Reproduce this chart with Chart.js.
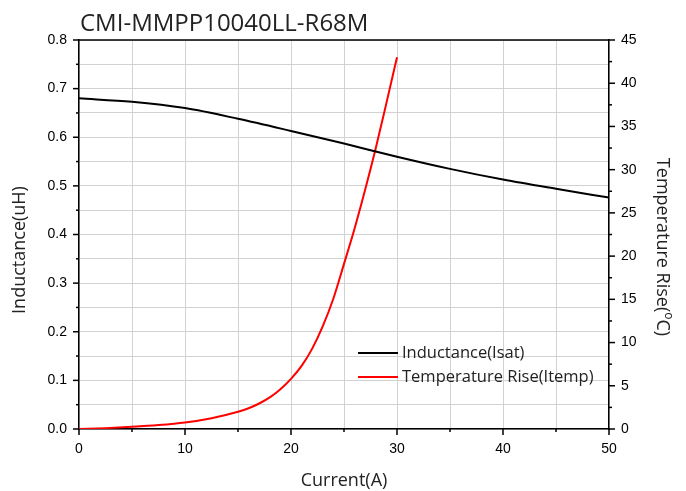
<!DOCTYPE html>
<html>
<head>
<meta charset="utf-8">
<script src="https://cdn.jsdelivr.net/npm/chart.js@4.4.0/dist/chart.umd.min.js"></script>
<style>
  html, body { margin: 0; padding: 0; background: #fff; }
  #caja { width: 686px; height: 491px; }
</style>
</head>
<body>
<div id="caja"><canvas id="myChart" width="686" height="491"></canvas></div>
<script>
// datos
const tituloGrafica = "CMI-MMPP10040LL-R68M";
const nombreSeries = ["Inductance(Isat)", "Temperature Rise(Itemp)"];
const tituloX = "Current(A)";
const tituloY = "Inductance(uH)";
const tituloY2 = ["Temperature Rise(", "o", "C)"];

const corrienteInd = [0, 5, 10, 15, 20, 25, 30, 35, 40, 45, 50];
const inductancia = [0.680, 0.673, 0.660, 0.638, 0.613, 0.587, 0.560, 0.535, 0.513, 0.494, 0.476];

const corrienteTemp = [0, 2.5, 5, 7.5, 10, 12.5, 15, 16, 17, 18, 19, 20, 21, 22, 23, 24, 25, 26, 27, 28, 29, 30];
const subidaTemp = [0, 0.1, 0.25, 0.45, 0.75, 1.25, 2.0, 2.4, 2.95, 3.65, 4.6, 5.8, 7.3, 9.3, 11.9, 15.1, 19.1, 23.2, 27.7, 32.5, 37.7, 43.0];

const ticksX = [0, 10, 20, 30, 40, 50];
const ticksY = [0, 0.1, 0.2, 0.3, 0.4, 0.5, 0.6, 0.7, 0.8];
const ticksY2 = [0, 5, 10, 15, 20, 25, 30, 35, 40, 45];

const fuenteTexto = '"Open Sans", "Noto Sans", sans-serif';
const fuenteNumeros = '"Liberation Sans", Arial, sans-serif';

function linea(ctx, x1, y1, x2, y2) {
    ctx.beginPath();
    ctx.moveTo(x1, y1);
    ctx.lineTo(x2, y2);
    ctx.stroke();
}

// marcas, marco, titulos y leyenda
const extras = {
    id: "extras",
    afterDraw(chart) {
        const ctx = chart.ctx;
        const area = chart.chartArea;
        const sx = chart.scales.x;
        const sy = chart.scales.y;
        const sy2 = chart.scales.y1;

        ctx.save();
        ctx.strokeStyle = "#000";
        ctx.lineWidth = 1.5;
        linea(ctx, area.left, area.top, area.right, area.top);

        for (let v = 0; v <= 50; v += 5) {
            const px = sx.getPixelForValue(v);
            const largo = ticksX.includes(v) ? 6 : 3;
            linea(ctx, px, area.bottom, px, area.bottom + largo);
        }
        for (let i = 0; i <= 16; i++) {
            const py = sy.getPixelForValue(i * 0.05);
            const largo = i % 2 === 0 ? 6 : 3;
            linea(ctx, area.left - largo, py, area.left, py);
        }
        for (let i = 0; i <= 18; i++) {
            const py = sy2.getPixelForValue(i * 2.5);
            const largo = i % 2 === 0 ? 6 : 3;
            linea(ctx, area.right, py, area.right + largo, py);
        }

        // titulo
        ctx.fillStyle = "#222";
        ctx.font = "24px " + fuenteTexto;
        ctx.textAlign = "left";
        ctx.textBaseline = "alphabetic";
        ctx.fillText(tituloGrafica, 80, 31);

        // titulos de ejes
        ctx.font = "18px " + fuenteTexto;
        ctx.textAlign = "center";
        ctx.textBaseline = "middle";
        ctx.fillText(tituloX, (area.left + area.right) / 2, 481);

        ctx.save();
        ctx.translate(20, 250);
        ctx.rotate(-Math.PI / 2);
        ctx.fillText(tituloY, 0, 0);
        ctx.restore();

        ctx.save();
        ctx.translate(662, 247);
        ctx.rotate(Math.PI / 2);
        ctx.textAlign = "left";
        const w1 = ctx.measureText(tituloY2[0]).width;
        ctx.font = "12px " + fuenteTexto;
        const w2 = ctx.measureText(tituloY2[1]).width;
        ctx.font = "18px " + fuenteTexto;
        const w3 = ctx.measureText(tituloY2[2]).width;
        let x0 = -(w1 + w2 + w3) / 2;
        ctx.fillText(tituloY2[0], x0, 0);
        ctx.font = "12px " + fuenteTexto;
        ctx.fillText(tituloY2[1], x0 + w1, -6);
        ctx.font = "18px " + fuenteTexto;
        ctx.fillText(tituloY2[2], x0 + w1 + w2, 0);
        ctx.restore();

        // leyenda
        ctx.font = "16.5px " + fuenteTexto;
        ctx.textAlign = "left";
        ctx.textBaseline = "middle";
        chart.data.datasets.forEach((ds, i) => {
            const yy = 353 + i * 24;
            ctx.strokeStyle = ds.borderColor;
            ctx.lineWidth = 2;
            linea(ctx, 358, yy, 398, yy);
            ctx.fillStyle = "#222";
            ctx.fillText(ds.label, 402, yy);
        });
        ctx.restore();
    }
};

function configGrafica() {
    const datosInd = corrienteInd.map((c, i) => ({ x: c, y: inductancia[i] }));
    const datosTemp = corrienteTemp.map((c, i) => ({ x: c, y: subidaTemp[i] }));
    const colorGrid = "#d2d2d2";
    const fuenteTicks = { family: fuenteNumeros, size: 14 };

    return {
        type: "line",
        data: {
            datasets: [
                {
                    label: nombreSeries[0],
                    data: datosInd,
                    borderColor: "#000000",
                    borderWidth: 2,
                    pointRadius: 0,
                    cubicInterpolationMode: "monotone",
                    yAxisID: "y"
                },
                {
                    label: nombreSeries[1],
                    data: datosTemp,
                    borderColor: "#ff0000",
                    borderWidth: 2,
                    pointRadius: 0,
                    cubicInterpolationMode: "monotone",
                    yAxisID: "y1"
                }
            ]
        },
        options: {
            responsive: false,
            animation: false,
            layout: { padding: { top: 40, left: 0, right: 0, bottom: 0 } },
            plugins: {
                legend: { display: false },
                title: { display: false },
                tooltip: { enabled: false }
            },
            scales: {
                x: {
                    type: "linear",
                    min: 0,
                    max: 50,
                    ticks: {
                        stepSize: 5,
                        color: "#000",
                        font: fuenteTicks,
                        padding: 12,
                        maxRotation: 0,
                        autoSkip: false,
                        callback: (v) => ticksX.includes(v) ? String(v) : ""
                    },
                    grid: { color: colorGrid, lineWidth: 1, drawTicks: false },
                    border: { color: "#000", width: 1.5 },
                    afterFit: (s) => { s.height = 62; }
                },
                y: {
                    position: "left",
                    min: 0,
                    max: 0.8,
                    ticks: {
                        stepSize: 0.05,
                        color: "#000",
                        font: fuenteTicks,
                        padding: 12,
                        autoSkip: false,
                        callback: (v) => {
                            const n = Math.round(v * 100);
                            return n % 10 === 0 ? (n / 100).toFixed(1) : "";
                        }
                    },
                    grid: { color: colorGrid, lineWidth: 1, drawTicks: false },
                    border: { color: "#000", width: 1.5 },
                    afterFit: (s) => { s.width = 79; }
                },
                y1: {
                    position: "right",
                    min: 0,
                    max: 45,
                    ticks: {
                        stepSize: 5,
                        color: "#000",
                        font: fuenteTicks,
                        padding: 12,
                        autoSkip: false,
                        callback: (v) => ticksY2.includes(v) ? String(v) : ""
                    },
                    grid: { drawOnChartArea: false, drawTicks: false },
                    border: { color: "#000", width: 1.5 },
                    afterFit: (s) => { s.width = 77; }
                }
            }
        },
        plugins: [extras]
    };
}

function renderGrafica() {
    const chartDOM = document.getElementById("myChart");
    new Chart(chartDOM, configGrafica());
}

renderGrafica();
</script>
</body>
</html>
